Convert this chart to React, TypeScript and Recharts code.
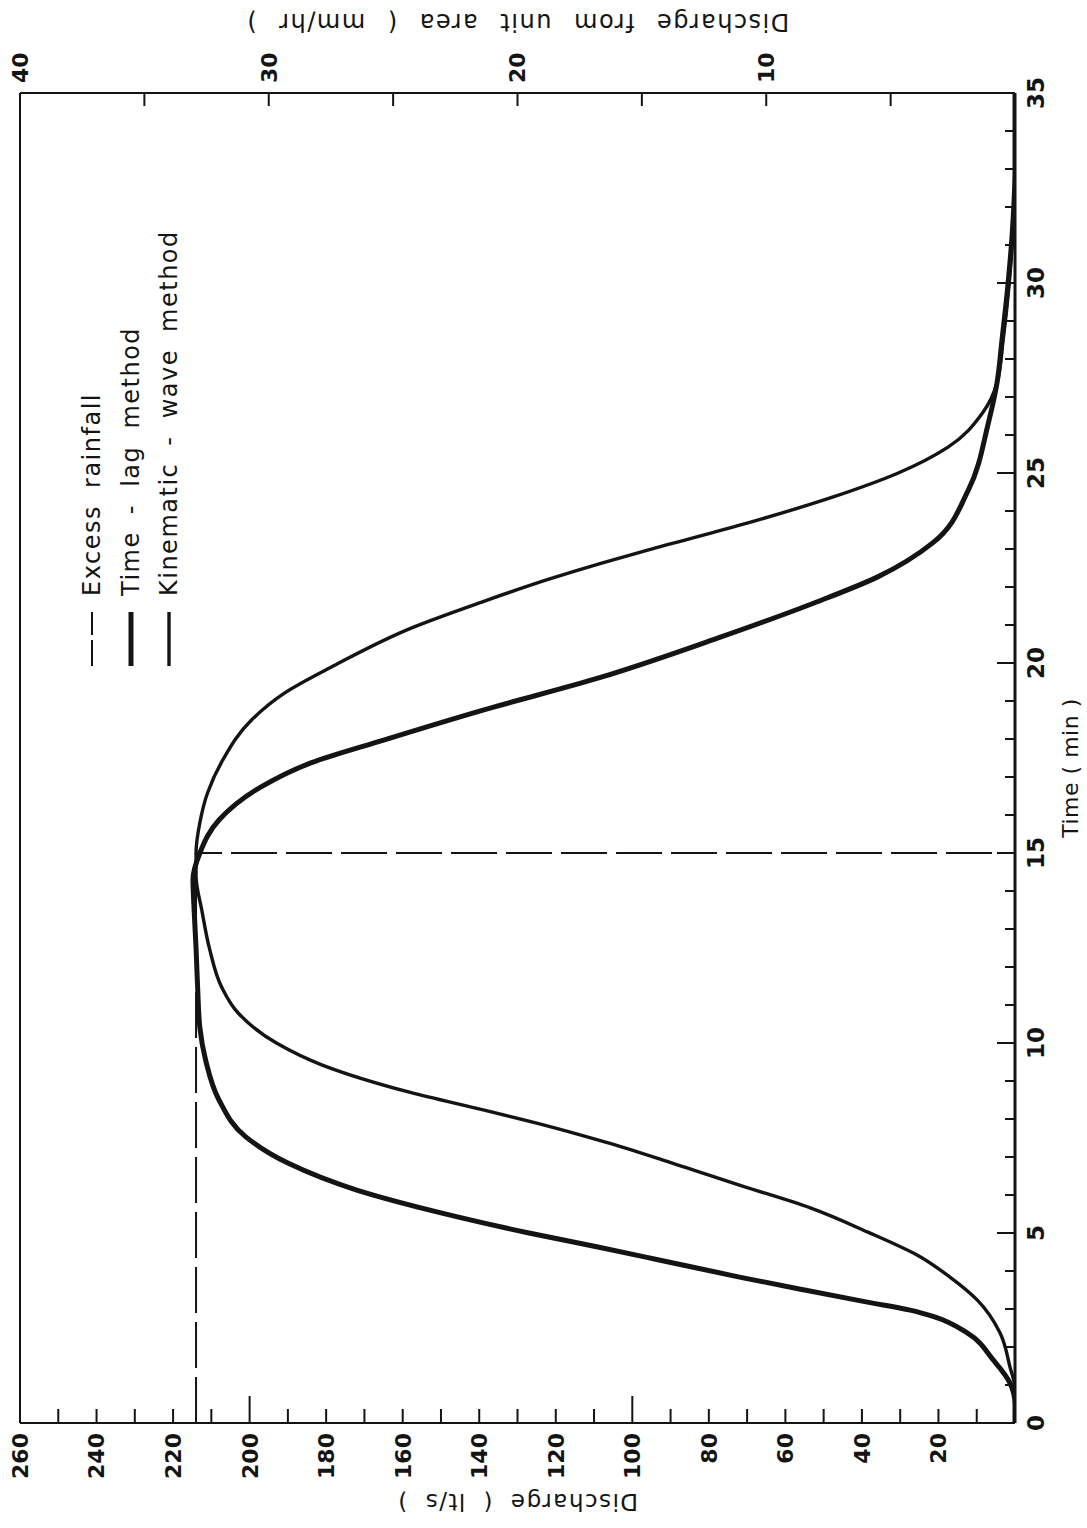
import React from 'react';
import { LineChart, Line, XAxis, YAxis, Legend } from 'recharts';

// ---------- data ----------
const timeLagT = [0, 0.5, 1.05, 1.66, 2.37, 2.79, 2.97, 3.18, 3.5, 3.84, 4.29, 4.63, 5.0, 5.53, 6.13, 6.84, 7.53, 8.5, 9.55, 10.4, 11.5, 12.5, 13.5, 14.3, 15.0, 15.87, 16.74, 17.37, 17.97, 18.76, 19.6, 20.68, 21.58, 22.26, 23.16, 24.55, 26.3, 27.37, 28.5, 30, 31.5, 33, 35];
const timeLagQ = [0, 0, 1.3, 5.7, 12.5, 21, 27.4, 38.6, 55, 72, 93, 109, 127, 150, 172, 190, 201, 208, 211.5, 213, 213.6, 214, 214.5, 214.8, 213, 208, 197, 184, 165, 139, 109, 77, 52.5, 36, 21.5, 12.2, 7, 4.7, 3.4, 1.8, 0.6, 0, 0];

const kinematicT = [0, 0.9, 1.47, 2.37, 3.24, 3.84, 4.42, 5.03, 5.66, 6.26, 6.92, 7.39, 7.84, 8.24, 8.7, 9.42, 10.0, 10.79, 11.47, 12.45, 13.5, 14.4, 15.0, 15.8, 16.58, 17.45, 18.5, 19.2, 19.9, 20.95, 21.58, 22.2, 22.63, 22.97, 23.68, 24.37, 25.0, 25.68, 26.58, 27.37, 28.5, 30, 31.5, 33, 35];
const kinematicQ = [0, 0, 1.3, 3.9, 9.9, 17, 25.6, 38.6, 53.5, 72, 92, 107, 123, 139, 158, 181, 193, 203, 207.3, 210.4, 212.5, 214, 214, 213, 211, 207, 199.5, 191, 178.5, 157, 140, 122, 108, 96, 70, 47.5, 30.5, 17.5, 8.5, 4.7, 3.1, 1.5, 0.5, 0, 0];

const rainT = [0, 15, 15];
const rainQ = [214, 214, 0];

const timeTicks = [0, 1, 2, 3, 4, 5, 6, 7, 8, 9, 10, 11, 12, 13, 14, 15, 16, 17, 18, 19, 20, 21, 22, 23, 24, 25, 26, 27, 28, 29, 30, 31, 32, 33, 34, 35];
const timeLabels = [0, 5, 10, 15, 20, 25, 30, 35];
const qTicks = [0, 10, 20, 30, 40, 50, 60, 70, 80, 90, 100, 110, 120, 130, 140, 150, 160, 170, 180, 190, 200, 210, 220, 230, 240, 250, 260];
const qLabels = [20, 40, 60, 80, 100, 120, 140, 160, 180, 200, 220, 240, 260];
const qLongTicks = [100, 200];
const mmTicks = [0, 5, 10, 15, 20, 25, 30, 35, 40];
const mmLabels = [10, 20, 30, 40];

const seriesNames = ['Excess rainfall', 'Time - lag method', 'Kinematic - wave method'];

const rows = (ts: number[], qs: number[]) => ts.map((t, i) => ({ t, q: qs[i] }));
const rainRows = rows(rainT, rainQ);
const timeLagRows = rows(timeLagT, timeLagQ);
const kinematicRows = rows(kinematicT, kinematicQ);

// ---------- styling / layout ----------
const INK = '#141414';
const FONT = "'DejaVu Sans', 'Noto Sans', sans-serif";
const W = 1528;
const H = 1087;
const MARGIN = { top: 19, right: 33, bottom: 22, left: 25 };
const LEFT_W = 80;
const RIGHT_W = 60;
const BOTTOM_H = 50;
const PLOT_LEFT = MARGIN.left + LEFT_W;
const PLOT_RIGHT = W - MARGIN.right - RIGHT_W;
const PLOT_TOP = MARGIN.top + 1;
const PLOT_BOTTOM = H - MARGIN.bottom - BOTTOM_H;

const styles: Record<string, { width: number; sample: string }> = {
  'Excess rainfall': { width: 2, sample: '26 5' },
  'Time - lag method': { width: 5, sample: '' },
  'Kinematic - wave method': { width: 3.4, sample: '' },
};

const txt = { fontFamily: FONT, fill: INK, letterSpacing: 1.5 } as React.CSSProperties;
const tickTxt = { fontFamily: FONT, fill: INK, fontWeight: 700 } as React.CSSProperties;

const TimeTick = (p: any) => {
  const { x, y, payload } = p;
  const v = payload.value;
  const major = v % 5 === 0;
  return (
    <g>
      {v > 0 && v < 35 && (
        <line x1={x} y1={y} x2={x} y2={y - (major ? 18 : 10)} stroke={INK} strokeWidth={2} />
      )}
      {timeLabels.includes(v) && (
        <text x={x} y={y + 29} textAnchor="middle" fontSize={23} style={tickTxt}>
          {v}
        </text>
      )}
    </g>
  );
};

const TopTick = (p: any) => {
  const { x, y, payload } = p;
  const v = payload.value;
  if (v <= 0 || v >= 35) return <g />;
  const major = v % 5 === 0;
  return <line x1={x} y1={y} x2={x} y2={y + (major ? 16 : 9)} stroke={INK} strokeWidth={2} />;
};

const QTick = (p: any) => {
  const { x, y, payload } = p;
  const v = payload.value;
  const len = qLongTicks.includes(v) ? 27 : 14;
  return (
    <g>
      {v > 0 && v < 260 && <line x1={x} y1={y} x2={x + len} y2={y} stroke={INK} strokeWidth={2} />}
      {qLabels.includes(v) && (
        <text x={x - 10} y={y} dy="0.36em" textAnchor="end" fontSize={22} style={tickTxt}>
          {v}
        </text>
      )}
    </g>
  );
};

const MmTick = (p: any) => {
  const { x, y, payload } = p;
  const v = payload.value;
  return (
    <g>
      {v > 0 && v < 40 && <line x1={x} y1={y} x2={x - 13} y2={y} stroke={INK} strokeWidth={2} />}
      {mmLabels.includes(v) && (
        <text x={x + 10} y={y} dy="0.36em" textAnchor="start" fontSize={22} style={tickTxt}>
          {v}
        </text>
      )}
    </g>
  );
};

const midV = (PLOT_TOP + PLOT_BOTTOM) / 2;

const LeftTitle = () => (
  <text
    x={34}
    y={midV}
    transform={`rotate(-90, 34, ${midV})`}
    textAnchor="middle"
    fontSize={23}
    style={{ ...txt, wordSpacing: 8 }}
  >
    Discharge ( lt/s )
  </text>
);

const RightTitle = () => (
  <text
    x={1514}
    y={midV}
    transform={`rotate(-90, 1514, ${midV})`}
    textAnchor="middle"
    fontSize={24}
    style={{ ...txt, wordSpacing: 12 }}
  >
    Discharge from unit area ( mm/hr )
  </text>
);

const TimeTitle = () => (
  <text x={(PLOT_LEFT + PLOT_RIGHT) / 2 - 10} y={PLOT_BOTTOM + 63} textAnchor="middle" fontSize={22} style={{ ...txt, letterSpacing: 0.5 }}>
    Time ( min )
  </text>
);

const LegendContent = (props: any) => {
  const payload: any[] = (props && props.payload) || [];
  const names = payload.length
    ? seriesNames.filter((n) => payload.some((e: any) => e.value === n))
    : seriesNames;
  return (
    <div style={{ fontFamily: FONT, color: INK }}>
      {names.map((n) => {
        const s = styles[n];
        return (
          <div key={n} style={{ display: 'flex', alignItems: 'center', height: 38.5 }}>
            <svg width={54} height={12} style={{ marginRight: 16, overflow: 'visible' }}>
              <line x1={0} y1={6} x2={54} y2={6} stroke={INK} strokeWidth={s.width} strokeDasharray={s.sample || undefined} />
            </svg>
            <span style={{ fontSize: 24, letterSpacing: 1.5, wordSpacing: 8, whiteSpace: 'pre' }}>{n}</span>
          </div>
        );
      })}
    </div>
  );
};

export default function App() {
  return (
    <div style={{ position: 'absolute', left: 0, top: 0, width: 1087, height: 1528, overflow: 'hidden', background: '#fff' }}>
      <div
        style={{
          position: 'absolute',
          left: 0,
          top: 0,
          width: W,
          height: H,
          transformOrigin: '0 0',
          transform: `translateY(${W}px) rotate(-90deg)`,
          background: '#fff',
        }}
      >
        <LineChart width={W} height={H} margin={MARGIN}>
          <XAxis
            xAxisId="main"
            dataKey="t"
            type="number"
            domain={[0, 35]}
            ticks={timeTicks}
            interval={0}
            height={BOTTOM_H}
            tickSize={0}
            tickMargin={0}
            tickLine={false}
            axisLine={{ stroke: INK, strokeWidth: 3 }}
            tick={(p: any) => <TimeTick {...p} />}
            label={TimeTitle}
            allowDataOverflow
          />
          <XAxis
            xAxisId="top"
            orientation="top"
            type="number"
            domain={[0, 35]}
            ticks={timeTicks}
            interval={0}
            height={1}
            tickSize={0}
            tickMargin={0}
            tickLine={false}
            axisLine={{ stroke: INK, strokeWidth: 2 }}
            tick={(p: any) => <TopTick {...p} />}
            allowDataOverflow
          />
          <YAxis
            yAxisId="q"
            type="number"
            domain={[0, 260]}
            ticks={qTicks}
            interval={0}
            width={LEFT_W}
            tickSize={0}
            tickMargin={0}
            tickLine={false}
            axisLine={{ stroke: INK, strokeWidth: 2 }}
            tick={(p: any) => <QTick {...p} />}
            label={LeftTitle}
            allowDataOverflow
          />
          <YAxis
            yAxisId="mm"
            orientation="right"
            type="number"
            domain={[0, 40]}
            ticks={mmTicks}
            interval={0}
            width={RIGHT_W}
            tickSize={0}
            tickMargin={0}
            tickLine={false}
            axisLine={{ stroke: INK, strokeWidth: 2 }}
            tick={(p: any) => <MmTick {...p} />}
            label={RightTitle}
            allowDataOverflow
          />
          <Legend
            layout="vertical"
            align="center"
            verticalAlign="middle"
            content={LegendContent}
            wrapperStyle={{ left: 862, top: 73, width: 520, height: 120 }}
          />
          <Line
            xAxisId="main"
            yAxisId="q"
            data={rainRows}
            dataKey="q"
            name={seriesNames[0]}
            type="linear"
            stroke={INK}
            strokeWidth={2}
            strokeDasharray="46 9"
            dot={false}
            activeDot={false}
            isAnimationActive={false}
          />
          <Line
            xAxisId="main"
            yAxisId="q"
            data={timeLagRows}
            dataKey="q"
            name={seriesNames[1]}
            type="monotone"
            stroke={INK}
            strokeWidth={5}
            dot={false}
            activeDot={false}
            isAnimationActive={false}
          />
          <Line
            xAxisId="main"
            yAxisId="q"
            data={kinematicRows}
            dataKey="q"
            name={seriesNames[2]}
            type="monotone"
            stroke={INK}
            strokeWidth={3.4}
            dot={false}
            activeDot={false}
            isAnimationActive={false}
          />
        </LineChart>
      </div>
    </div>
  );
}
